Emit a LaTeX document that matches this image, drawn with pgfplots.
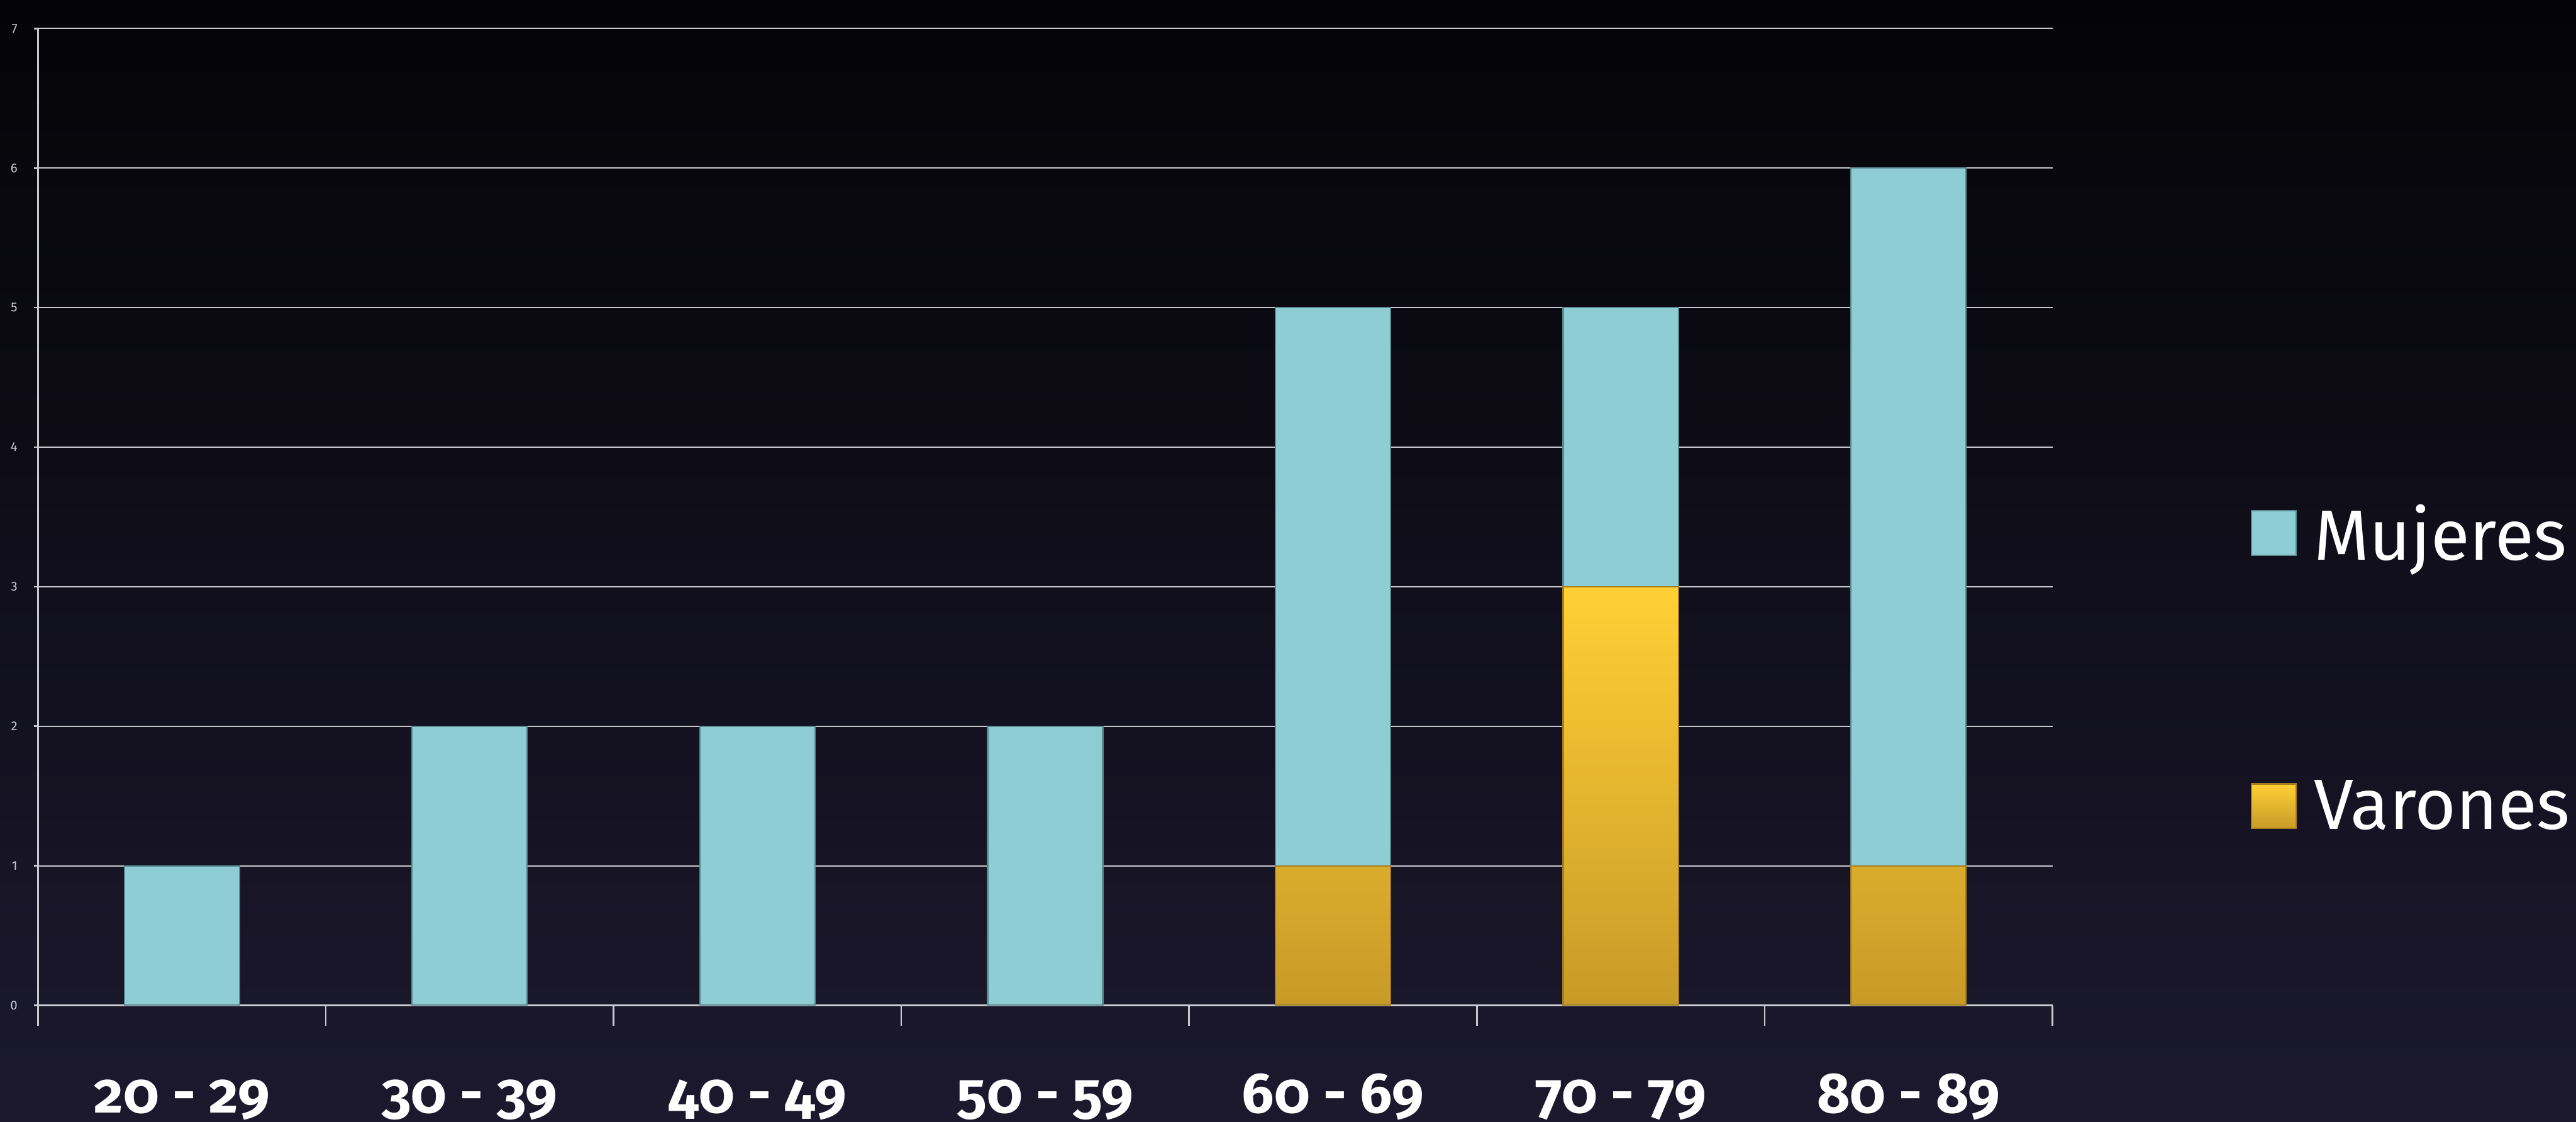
\documentclass[border=0pt]{standalone}
\usepackage{fontspec}
\setmainfont{Fira Sans}
\newfontfamily\labfont[Numbers=OldStyle]{Fira Sans}
\usepackage{pgfplots}
\pgfplotsset{compat=1.18}
\definecolor{bgtop}{RGB}{4,4,7}
\definecolor{bgbot}{RGB}{28,25,46}
\definecolor{muj}{RGB}{142,205,211}
\definecolor{mujedge}{RGB}{88,138,142}
\definecolor{vartop}{RGB}{255,208,53}
\definecolor{varbot}{RGB}{200,154,40}
\definecolor{varedge}{RGB}{165,125,30}
\definecolor{gridc}{RGB}{200,200,208}
\begin{document}
\begin{tikzpicture}
\clip (0,0) rectangle (542.7pt,236.3pt);
\shade[top color=bgtop, bottom color=bgbot] (0,0) rectangle (542.7pt,236.3pt);
\begin{axis}[
  at={(8pt,24.5pt)}, anchor=south west,
  scale only axis, width=424.4pt, height=205.8pt,
  xmin=-0.5, xmax=6.5, ymin=0, ymax=7,
  axis lines*=left,
  axis line style={gridc, line width=0.35pt},
  ybar stacked, bar width=0.4,
  xtick={0,...,6},
  xticklabels={20 - 29,30 - 39,40 - 49,50 - 59,60 - 69,70 - 79,80 - 89},
  major x tick style={draw=none},
  minor xtick={-0.5,0.5,...,6.5},
  minor x tick style={gridc, line width=0.35pt},
  minor tick length=4.3pt,
  major tick length=0.8pt,
  tick align=outside,
  ytick={0,...,7},
  ytick style={gridc, line width=0.35pt},
  ymajorgrids,
  grid style={gridc, line width=0.3pt},
  /pgf/number format/assume math mode=true,
  yticklabel style={font=\fontsize{2.7}{3}\selectfont, text=gridc},
  xticklabel style={font=\labfont\bfseries\fontsize{12.0}{14}\selectfont, text=white, anchor=base, yshift=-21.9pt},
  legend style={at={(1.098,0.514)}, anchor=north west, draw=none, fill=none,
    text=white, font=\fontsize{15.0}{18}\selectfont, row sep=45pt, column sep=3.6pt, inner sep=0pt,
    nodes={inner sep=0pt}},
  legend cell align=left,
  reverse legend,
  legend image code/.code={\path[#1] (0pt,-4.2pt) rectangle (9.4pt,5.2pt);},
]
\addplot[top color=vartop, bottom color=varbot, draw=varedge, line width=0.3pt]
  coordinates {(0,0) (1,0) (2,0) (3,0) (4,1) (5,3) (6,1)};
\addlegendentry{Varones}
\addplot[fill=muj, draw=mujedge, line width=0.3pt]
  coordinates {(0,1) (1,2) (2,2) (3,2) (4,4) (5,2) (6,5)};
\addlegendentry{Mujeres}
\end{axis}
\end{tikzpicture}
\end{document}
